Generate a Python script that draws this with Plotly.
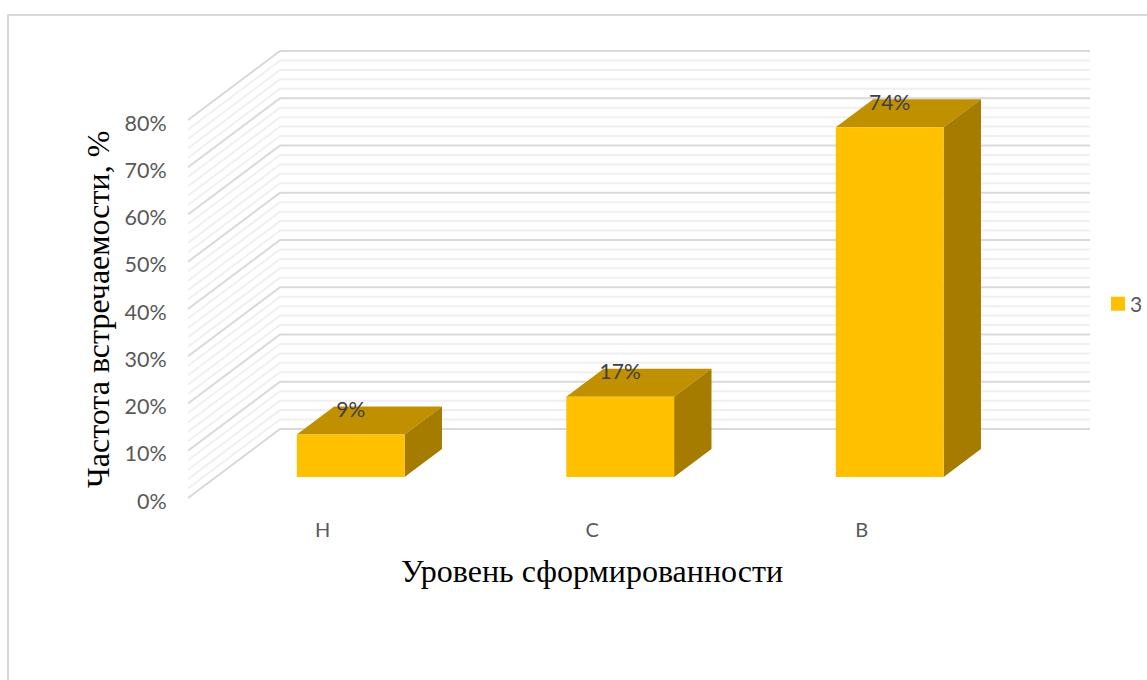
import plotly.graph_objects as go

categories = ["Н", "С", "В"]
values = [9, 17, 74]
value_labels = ["9%", "17%", "74%"]
major_ticks = [0, 10, 20, 30, 40, 50, 60, 70, 80]
minor_ticks = [v for v in range(0, 81, 2) if v % 10]
series_name = "3"
x_title = "Уровень сформированности"
y_title = "Частота встречаемости, %"

# Page and plot layout (pixels)
W, H = 1147, 680
L, R, T, B = 188, 1090, 40, 516
PX_CAT = 269.5      # pixels per category
PX_VAL = 4.725      # pixels per percent
Y0 = 498            # pixel of 0% on the front edge
DX_PX, DY_PX = 92, 69   # oblique offset of the full depth

# Oblique projection, in axis units
DX = DX_PX / PX_CAT
DY = DY_PX / PX_VAL
BAR_W = 0.4
D0, D1 = 0.304, 0.71   # bar's depth extent


def px(c, d):
    return c + d * DX


def py(v, d):
    return v + d * DY


x_lo = -0.5
x_hi = x_lo + (R - L) / PX_CAT
y_lo = (Y0 - B) / PX_VAL
y_hi = (Y0 - T) / PX_VAL

fig = go.Figure()


def wall(v, color):
    fig.add_trace(go.Scatter(
        x=[px(x_lo, 0), px(x_lo, 1), x_hi],
        y=[py(v, 0), py(v, 1), py(v, 1)],
        mode="lines", line=dict(color=color, width=2),
        hoverinfo="skip", showlegend=False))


for v in minor_ticks:
    wall(v, "#f0f0f0")
for v in major_ticks:
    wall(v, "#d9d9d9")


def poly(xs, ys, color):
    fig.add_trace(go.Scatter(
        x=xs, y=ys, mode="none", fill="toself", fillcolor=color,
        hoverinfo="skip", showlegend=False))


for i, val in enumerate(values):
    c0, c1 = i - BAR_W / 2, i + BAR_W / 2
    # top face
    poly([px(c0, D0), px(c1, D0), px(c1, D1), px(c0, D1)],
         [py(val, D0), py(val, D0), py(val, D1), py(val, D1)], "#c09000")
    # side face
    poly([px(c1, D0), px(c1, D1), px(c1, D1), px(c1, D0)],
         [py(0, D0), py(0, D1), py(val, D1), py(val, D0)], "#a67c00")
    # front face
    poly([px(c0, D0), px(c1, D0), px(c1, D0), px(c0, D0)],
         [py(0, D0), py(0, D0), py(val, D0), py(val, D0)], "#ffc000")

# data labels
LIFT = 22.5 / PX_VAL
fig.add_trace(go.Scatter(
    x=[px(i, D0) for i in range(len(values))],
    y=[py(val, D0) + LIFT for val in values],
    text=value_labels, mode="text", textposition="middle center",
    textfont=dict(family="Lato", size=21, color="#404040"),
    hoverinfo="skip", showlegend=False))

# legend entry
fig.add_trace(go.Scatter(
    x=[None], y=[None], name=series_name, mode="markers",
    marker=dict(symbol="square", size=14, color="#ffc000")))

fig.update_layout(
    width=W, height=H, autosize=False,
    margin=dict(l=L, r=W - R, t=T, b=H - B, autoexpand=False),
    paper_bgcolor="white", plot_bgcolor="rgba(0,0,0,0)",
    font=dict(family="Lato", size=19, color="#595959"),
    xaxis=dict(range=[x_lo, x_hi], tickvals=list(range(len(categories))),
               ticktext=categories, showgrid=False, zeroline=False,
               showline=False, ticks="",
               tickfont=dict(size=20, color="#595959")),
    yaxis=dict(range=[y_lo, y_hi], tickvals=major_ticks,
               ticktext=[f"{v}%" for v in major_ticks],
               showgrid=False, zeroline=False, showline=False,
               ticks="outside", ticklen=16, tickcolor="rgba(0,0,0,0)",
               ticklabelshift=3,
               tickfont=dict(size=21.5, color="#595959")),
    legend=dict(x=1090 / W, y=1 - 304 / H, xref="container", yref="container",
                xanchor="left", yanchor="middle", bgcolor="rgba(0,0,0,0)",
                font=dict(size=21, color="#595959")),
    shapes=[dict(type="rect", xref="paper", yref="paper",
                 x0=(8 - L) / (R - L), x1=(W + 5 - L) / (R - L),
                 y0=(B - (H + 5)) / (B - T), y1=(B - 15) / (B - T),
                 line=dict(color="#d9d9d9", width=2), layer="below")],
    annotations=[
        dict(text=x_title, xref="paper", yref="paper",
             x=(592 - L) / (R - L), y=(B - 571) / (B - T),
             showarrow=False, xanchor="center", yanchor="middle",
             font=dict(family="Liberation Serif", size=32, color="black")),
        dict(text=y_title, xref="paper", yref="paper",
             x=(98 - L) / (R - L), y=(B - 310) / (B - T), textangle=-90,
             showarrow=False, xanchor="center", yanchor="middle",
             font=dict(family="Liberation Serif", size=32, color="black")),
    ],
)

fig.write_html("out.html", config=dict(displayModeBar=False),
               post_script=("document.body.style.margin='0';"
                            "document.body.style.overflow='hidden';"
                            "document.querySelectorAll('.legend .legendpoints')"
                            ".forEach(function(g){g.setAttribute('transform','translate(8,0)');});"))
